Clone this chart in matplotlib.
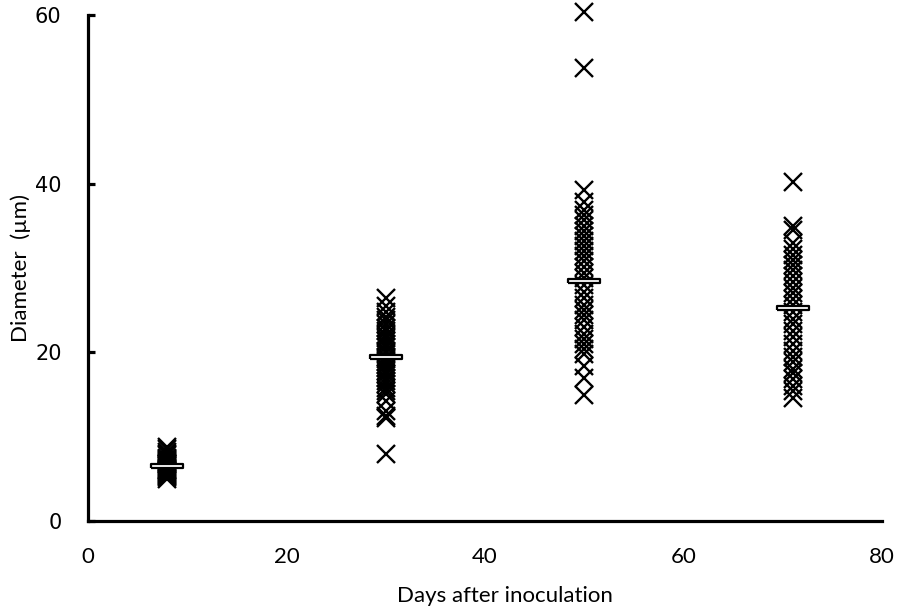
import numpy as np
import matplotlib
matplotlib.use('Agg')
import matplotlib.pyplot as plt

# days after inoculation for each sampled group
days = [8, 30, 50, 71]

# diameters (um), one list per sampling day
d8 = [8.8, 8.5, 8.2, 8.0, 7.8, 7.5, 7.3, 7.1, 7.0, 6.8, 6.7, 6.5, 6.4, 6.2,
      6.0, 5.9, 5.8, 5.6, 5.5, 5.3, 5.2, 5.0, 6.6, 7.2, 6.3, 5.7, 6.9, 6.1]
d30 = [26.5, 25.5, 24.8, 24.2, 23.8, 23.3, 22.9, 22.5, 22.1, 21.7, 21.3, 21.0,
       20.6, 20.2, 19.9, 19.5, 19.2, 18.8, 18.5, 18.1, 17.8, 17.4, 17.0, 16.6,
       16.2, 15.8, 15.4, 15.0, 14.2, 13.0, 12.5, 12.2, 8.0]
d50 = [60.3, 53.7, 39.2, 37.8, 36.9, 36.3, 35.7, 35.0, 34.4, 33.8, 33.2, 32.6,
       32.0, 31.4, 30.8, 30.1, 29.4, 28.8, 28.0, 27.2, 26.5, 25.6, 25.0, 24.4,
       23.8, 23.0, 22.2, 21.6, 21.0, 20.4, 19.8, 18.4, 16.9, 14.9]
d71 = [40.2, 35.0, 34.5, 33.0, 32.3, 31.6, 31.0, 30.4, 29.8, 29.0, 28.3, 27.6,
       27.0, 26.3, 25.6, 24.8, 24.0, 23.3, 22.5, 21.8, 21.0, 20.2, 19.5, 18.8,
       18.0, 17.5, 16.8, 16.0, 15.4, 14.6]
groups = [d8, d30, d50, d71]

# group means as shown by the white bars
means = [6.5, 19.5, 28.4, 25.2]

fig = plt.figure(figsize=(8.98, 6.12), dpi=100)
ax = fig.add_axes([0.098, 0.1487, 0.884, 0.8268])

for day, vals in zip(days, groups):
    ax.plot([day] * len(vals), vals, linestyle='none', marker='x',
            markersize=12.5, markeredgewidth=1.7, color='black', clip_on=False)

bar = [(-1, -0.14), (1, -0.14), (1, 0.14), (-1, 0.14), (-1, -0.14)]
ax.plot(days, means, linestyle='none', marker=bar, markersize=23,
        markerfacecolor='white', markeredgecolor='black', markeredgewidth=1.6,
        zorder=5)

ax.set_xlim(0, 80)
ax.set_ylim(0, 60)
ax.set_xticks([0, 20, 40, 60, 80])
ax.set_yticks([0, 20, 40, 60])

for s in ['top', 'right']:
    ax.spines[s].set_visible(False)
for s in ['left', 'bottom']:
    ax.spines[s].set_linewidth(2.3)

ax.tick_params(axis='y', direction='in', length=5, width=2.3, pad=19,
               labelsize=15)
ax.tick_params(axis='x', length=0, pad=19, labelsize=16)
for lab in ax.get_xticklabels():
    lab.set_family('Lato')
for lab in ax.get_yticklabels():
    lab.set_family('DejaVu Sans')

ax.set_xlabel('Days after inoculation', fontsize=16, family='Lato')
ax.xaxis.set_label_coords(0.525, -0.128)
ax.set_ylabel('Diameter  (\u00b5m)', fontsize=16, family='Lato')
ax.yaxis.set_label_coords(-0.072, 0.5)

plt.savefig('out.png', dpi=100)
